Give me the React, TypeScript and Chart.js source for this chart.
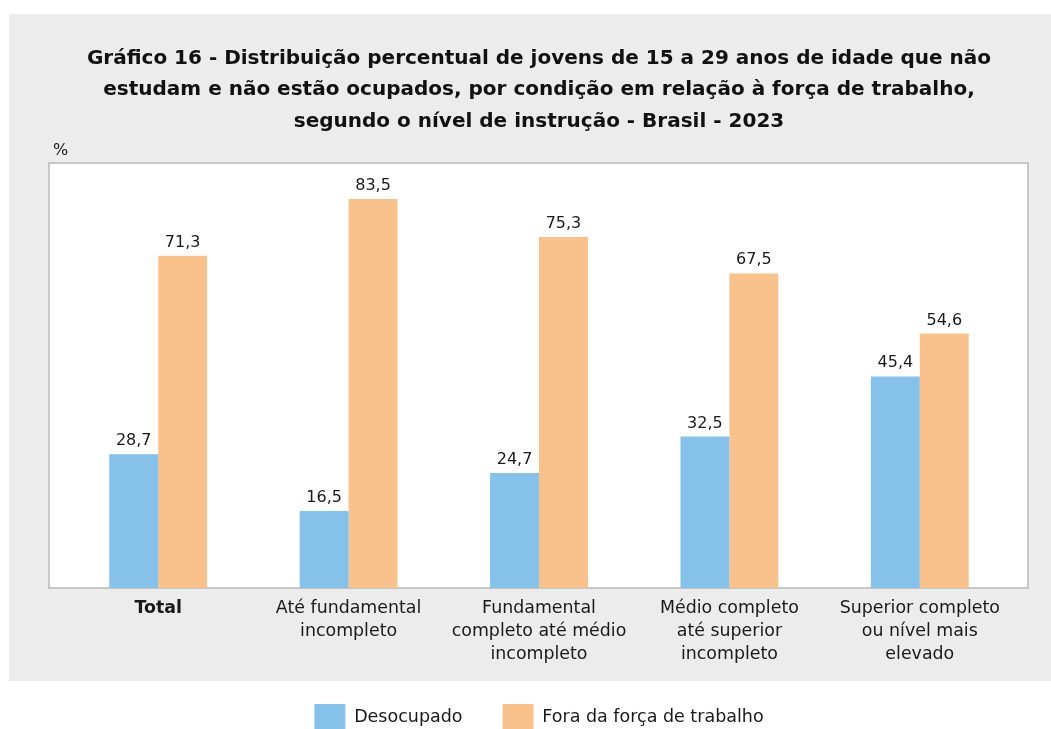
import React, { useEffect, useRef } from "react";
import { Chart, registerables } from "chart.js";

Chart.register(...registerables);

const categories: string[][] = [
  ["Total"],
  ["Até fundamental", "incompleto"],
  ["Fundamental", "completo até médio", "incompleto"],
  ["Médio completo", "até superior", "incompleto"],
  ["Superior completo", "ou nível mais", "elevado"],
];
const desocupado: number[] = [28.7, 16.5, 24.7, 32.5, 45.4];
const foraForca: number[] = [71.3, 83.5, 75.3, 67.5, 54.6];
const seriesNames: string[] = ["Desocupado", "Fora da força de trabalho"];
const titleLines: string[] = [
  "Gráfico 16 - Distribuição percentual de jovens de 15 a 29 anos de idade que não",
  "estudam e não estão ocupados, por condição em relação à força de trabalho,",
  "segundo o nível de instrução - Brasil - 2023",
];
const unitLabel = "%";

const FONT = "'DejaVu Sans', 'Liberation Sans', Arial, sans-serif";
const BLUE = "#85c1e9";
const ORANGE = "#f9c18b";
const PANEL = "#ececec";

const backgroundPlugin = {
  id: "bgPanel",
  beforeDraw(chart: any) {
    const { ctx, chartArea } = chart;
    ctx.save();
    ctx.fillStyle = "#ffffff";
    ctx.fillRect(0, 0, chart.width, chart.height);
    ctx.fillStyle = PANEL;
    ctx.fillRect(9, 14, chart.width - 9, 667);
    const l = chartArea.left - 14;
    const r = chartArea.right + 13;
    ctx.fillStyle = "#ffffff";
    ctx.fillRect(l, chartArea.top, r - l, chartArea.bottom - chartArea.top);
    ctx.strokeStyle = "#b8b8b8";
    ctx.lineWidth = 1.5;
    ctx.strokeRect(l, chartArea.top, r - l, chartArea.bottom - chartArea.top);
    ctx.fillStyle = "#1a1a1a";
    ctx.font = `16px ${FONT}`;
    ctx.textAlign = "left";
    ctx.textBaseline = "alphabetic";
    ctx.fillText(unitLabel, l + 4, chartArea.top - 8);
    ctx.restore();
  },
};

const valueLabelPlugin = {
  id: "valueLabels",
  afterDatasetsDraw(chart: any) {
    const { ctx } = chart;
    ctx.save();
    ctx.fillStyle = "#1a1a1a";
    ctx.font = `16px ${FONT}`;
    ctx.textAlign = "center";
    ctx.textBaseline = "alphabetic";
    chart.data.datasets.forEach((ds: any, di: number) => {
      const meta = chart.getDatasetMeta(di);
      meta.data.forEach((bar: any, i: number) => {
        const v = ds.data[i] as number;
        ctx.fillText(v.toFixed(1).replace(".", ","), bar.x, bar.y - 9);
      });
    });
    ctx.restore();
  },
};

export default function App() {
  const ref = useRef<HTMLCanvasElement | null>(null);
  useEffect(() => {
    if (!ref.current) return;
    const chart = new Chart(ref.current, {
      type: "bar",
      data: {
        labels: categories,
        datasets: [
          {
            label: seriesNames[0],
            data: desocupado,
            backgroundColor: BLUE,
            borderWidth: 0,
            categoryPercentage: 0.514,
            barPercentage: 1,
          },
          {
            label: seriesNames[1],
            data: foraForca,
            backgroundColor: ORANGE,
            borderWidth: 0,
            categoryPercentage: 0.514,
            barPercentage: 1,
          },
        ],
      },
      options: {
        responsive: false,
        animation: false,
        devicePixelRatio: 1,
        layout: { padding: { left: 63, right: 36, top: 0, bottom: 0 } },
        scales: {
          x: {
            grid: { display: false, drawTicks: false, tickLength: 0 },
            border: { display: false },
            afterFit: (scale: any) => {
              scale.height = 76;
            },
            ticks: {
              padding: 8.5,
              color: "#1a1a1a",
              maxRotation: 0,
              autoSkip: false,
              font: (c: any) => ({
                family: FONT,
                size: 17.4,
                lineHeight: 23 / 17.4,
                weight: c.index === 0 ? "bold" : "normal",
              }),
            },
          },
          y: {
            display: false,
            min: 0,
            max: 91.2,
          },
        },
        plugins: {
          title: {
            display: true,
            text: titleLines,
            color: "#111111",
            font: { family: FONT, size: 20, weight: "bold", lineHeight: 1.575 },
            padding: { top: 43, bottom: 25.5 },
          },
          legend: {
            position: "bottom",
            labels: {
              boxWidth: 31,
              boxHeight: 26,
              padding: 40,
              color: "#1a1a1a",
              font: { family: FONT, size: 17.5 },
            },
          },
          tooltip: { enabled: false },
        },
      },
      plugins: [backgroundPlugin, valueLabelPlugin],
    });
    return () => chart.destroy();
  }, []);
  return (
    <div
      style={{
        position: "fixed",
        left: 0,
        top: 0,
        width: 1051,
        height: 729,
        overflow: "hidden",
        background: "#ffffff",
      }}
    >
      <canvas ref={ref} width={1051} height={740} style={{ display: "block" }} />
    </div>
  );
}
